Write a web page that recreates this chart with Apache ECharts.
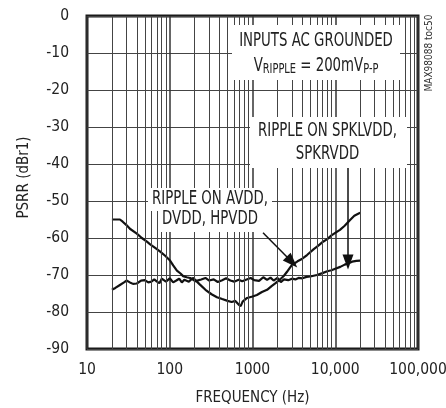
<!DOCTYPE html>
<html>
<head>
<meta charset="utf-8">
<script src="https://cdn.jsdelivr.net/npm/echarts@6/dist/echarts.min.js"></script>
<style>html,body{margin:0;padding:0;background:#fff}#c{width:446px;height:408px}</style>
</head>
<body>
<div id="c"></div>
<script>
// ---- data ----
var xTickValues = [10, 100, 1000, 10000, 100000];
var xTickLabels = ['10', '100', '1000', '10,000', '100,000'];
var yTickValues = [0, -10, -20, -30, -40, -50, -60, -70, -80, -90];

// Ripple on AVDD, DVDD, HPVDD
var freqA = [20, 22, 25, 27, 30, 33, 40, 46, 53, 58, 66, 76, 88, 100, 110, 122, 135, 145, 160, 176, 195, 213, 232, 270, 320, 372, 430, 500, 560, 620, 680, 720, 760, 860, 1000, 1130, 1300, 1500, 1700, 1900, 2150, 2400, 2600, 2838, 3000, 3500, 4000, 4560, 5500, 6300, 7120, 8000, 9000, 10000, 11400, 13000, 15000, 17000, 20000];
var psrrA = [-55, -55, -55, -55.6, -56.5, -57.5, -58.8, -60, -61, -61.7, -62.6, -63.6, -64.8, -66, -67.4, -68.8, -69.6, -70.3, -70.6, -70.8, -71.4, -71.8, -72.6, -74, -75.2, -76, -76.5, -77, -77.3, -77, -78, -78.4, -77.2, -76.2, -75.8, -75.4, -74.6, -74, -73, -72.2, -71.2, -70.2, -69.2, -68, -67.3, -66.3, -65.6, -64.6, -63, -62, -61, -60.3, -59.3, -58.6, -57.8, -56.7, -55.2, -54, -53.2];

// Ripple on SPKLVDD, SPKRVDD
var freqB = [20, 22, 25, 28, 30, 33, 36, 40, 45, 50, 55, 60, 65, 70, 75, 80, 90, 100, 110, 120, 130, 140, 150, 170, 190, 210, 240, 270, 300, 340, 380, 430, 480, 540, 600, 680, 750, 850, 950, 1050, 1200, 1350, 1500, 1650, 1800, 2000, 2200, 2400, 2700, 3000, 3300, 3600, 4000, 4500, 5000, 6000, 7000, 8000, 9000, 10000, 11500, 13000, 14500, 16000, 18000, 20000];
var psrrB = [-74, -73.5, -72.7, -72, -71.5, -72, -72.4, -72.3, -71.5, -71.4, -72, -71.8, -71.2, -71.8, -72.2, -71, -71.8, -70.9, -72, -71.5, -71, -72, -71.3, -71.8, -70.8, -71.6, -71.2, -70.8, -71.5, -71.2, -71.9, -71.4, -70.9, -71.5, -71.8, -71.3, -71.7, -71.2, -70.8, -71.4, -71.6, -70.6, -71.3, -70.7, -71.5, -70.8, -71.9, -71.2, -71.4, -71, -71.2, -70.8, -70.9, -70.5, -70.4, -70, -69.5, -69, -68.7, -68.3, -67.8, -67.2, -66.8, -66.4, -66.2, -66.1];

// annotation arrows [fromFreq, fromPSRR, toFreq, toPSRR]
var arrows = [[1340, -58.6, 3000, -66.5], [14260, -41.1, 14260, -66.5]];

// minor vertical grid frequencies
var minorFreqs = [];
[10, 100, 1000, 10000].forEach(function (d) {
  for (var k = 2; k <= 9; k++) minorFreqs.push(d * k);
});

function zip(a, b) { return a.map(function (v, i) { return [v, b[i]]; }); }

var FONT = "'DejaVu Sans Condensed', 'Liberation Sans Narrow', sans-serif";
var TXT = '#222';
var GRID = '#444';
var SX = 0.78;   // horizontal squeeze for the condensed annotation lettering

function note(x, y, text, extra) {
  var st = { x: 0, y: 0, text: text, align: 'center', verticalAlign: 'middle', fill: TXT, fontSize: 19, fontFamily: FONT };
  if (extra) for (var k in extra) st[k] = extra[k];
  return { type: 'text', z: 51, x: x, y: y, scaleX: SX, scaleY: 1, style: st };
}

var chart = echarts.init(document.getElementById('c'));
chart.setOption({
  animation: false,
  backgroundColor: '#fff',
  grid: { left: 87, right: 28, top: 16, bottom: 59, containLabel: false, outerBoundsMode: 'none', show: true, borderColor: '#1a1a1a', borderWidth: 3, backgroundColor: 'transparent' },
  xAxis: {
    type: 'log', logBase: 10, min: 10, max: 100000,
    axisLine: { show: false }, axisTick: { show: false },
    splitLine: { show: true, lineStyle: { color: '#333', width: 1.5 } },
    axisLabel: {
      margin: 13, color: TXT, fontSize: 15.5, fontFamily: FONT,
      formatter: function (v) { var i = xTickValues.indexOf(Math.round(v)); return i >= 0 ? xTickLabels[i] : ''; }
    },
    name: 'FREQUENCY (Hz)', nameLocation: 'middle', nameGap: 42,
    nameTextStyle: { color: TXT, fontSize: 15, fontFamily: FONT }
  },
  yAxis: {
    type: 'value', min: -90, max: 0, interval: 10,
    axisLine: { show: false }, axisTick: { show: false },
    splitLine: { show: true, lineStyle: { color: GRID, width: 1 } },
    axisLabel: { margin: 18, color: TXT, fontSize: 15.5, fontFamily: FONT, padding: [3, 0, 0, 0] },
    name: 'PSRR (dBr1)', nameLocation: 'middle', nameGap: 55, nameRotate: 90,
    nameTextStyle: { color: TXT, fontSize: 15, fontFamily: FONT, padding: [0, 0, 0, 10] }
  },
  series: [
    {
      type: 'line', data: [], z: 1, silent: true,
      markLine: {
        silent: true, symbol: 'none', animation: false,
        label: { show: false },
        lineStyle: { color: GRID, width: 1, type: 'solid' },
        data: minorFreqs.map(function (f) { return { xAxis: f }; })
      }
    },
    {
      name: 'AVDD', type: 'line', data: zip(freqA, psrrA), z: 3,
      showSymbol: false, symbol: 'none',
      lineStyle: { color: '#111', width: 2.2 }
    },
    {
      name: 'SPKVDD', type: 'line', data: zip(freqB, psrrB), z: 3,
      showSymbol: false, symbol: 'none',
      lineStyle: { color: '#111', width: 2.2 },
      markLine: {
        silent: true, symbol: ['none', 'triangle'], symbolSize: [11, 15], animation: false,
        label: { show: false },
        lineStyle: { color: '#111', width: 1.5, type: 'solid' },
        data: arrows.map(function (a) { return [{ coord: [a[0], a[1]] }, { coord: [a[2], a[3]] }]; })
      }
    }
  ],
  graphic: [
    { type: 'rect', z: 50, shape: { x: 232, y: 25, width: 168, height: 55 }, style: { fill: '#fff' } },
    { type: 'rect', z: 50, shape: { x: 250, y: 117, width: 157, height: 51 }, style: { fill: '#fff' } },
    { type: 'rect', z: 50, shape: { x: 148, y: 188, width: 124, height: 23 }, style: { fill: '#fff' } },
    { type: 'rect', z: 50, shape: { x: 158, y: 209, width: 104, height: 23 }, style: { fill: '#fff' } },
    note(316, 41, 'INPUTS AC GROUNDED'),
    note(316, 65, '{a|V}{b|RIPPLE}{a| = 200mV}{b|P-P}', {
      rich: {
        a: { fontSize: 19, fontFamily: FONT, fill: TXT, lineHeight: 22, verticalAlign: 'bottom' },
        b: { fontSize: 14, fontFamily: FONT, fill: TXT, lineHeight: 22, verticalAlign: 'bottom' }
      }
    }),
    note(327.5, 131.5, 'RIPPLE ON SPKLVDD,'),
    note(327.5, 154, 'SPKRVDD'),
    note(210, 199, 'RIPPLE ON AVDD,'),
    note(210, 219, 'DVDD, HPVDD'),
    { type: 'text', z: 51, x: 429, y: 53, rotation: Math.PI / 2, style: { x: 0, y: 0, text: 'MAX98088 toc50', align: 'center', verticalAlign: 'middle', fill: '#333', fontSize: 10, fontFamily: FONT } }
  ]
});
</script>
</body>
</html>
